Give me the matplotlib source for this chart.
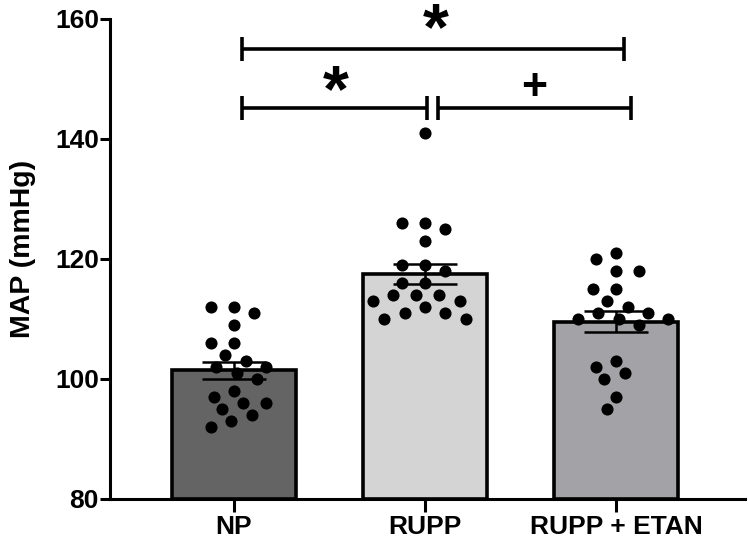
import numpy as np
import matplotlib
matplotlib.use("Agg")
import matplotlib.pyplot as plt

plt.rcParams['font.family'] = ['Liberation Sans', 'DejaVu Sans']
plt.rcParams['font.weight'] = 'bold'

categories = ["NP", "RUPP", "RUPP + ETAN"]
np_vals = [112, 112, 111, 109, 106, 106, 104, 103, 102, 102,
           101, 100, 98, 97, 95, 96, 96, 94, 92, 93]
rupp_vals = [141, 125, 126, 126, 123, 119, 119, 118, 116, 116,
             113, 110, 113, 114, 114, 112, 111, 110, 114, 111]
etan_vals = [111, 110, 120, 118, 115, 111, 109, 121, 118, 115,
             113, 110, 110, 112, 102, 100, 101, 103, 97, 95]
groups = [np_vals, rupp_vals, etan_vals]
bar_colors = ["#646464", "#d4d4d4", "#a3a2a6"]
yticks = [80, 100, 120, 140, 160]

fig = plt.figure(figsize=(7.48, 5.45), dpi=100)
ax = fig.add_axes([110/748, 1-499/545, 635/748, 480/545])
ax.set_xlim(-0.649, 2.675)
ax.set_ylim(80, 160)

x = np.arange(len(categories))
means = [np.mean(g) for g in groups]
sems = [np.std(g, ddof=1)/np.sqrt(len(g)) for g in groups]

ax.bar(x, [m - 80 for m in means], bottom=80, width=0.65, color=bar_colors,
       edgecolor='black', linewidth=2.6, zorder=2)

# swarm layout in pixel space (elliptical neighbourhood to spread rows wider)
T = ax.transData
px_per_x = T.transform((1, 0))[0] - T.transform((0, 0))[0]
px_per_y = T.transform((0, 1))[1] - T.transform((0, 0))[1]
dx0 = 23.0
dy0 = 13.0

def swarm(vals):
    vals = np.asarray(vals, float)
    ys = vals * px_per_y
    order = np.argsort(-vals, kind='stable')
    placed = []
    offs = np.zeros(len(vals))

    def collide(c, y):
        return any(((c - xj)/dx0)**2 + ((y - yj)/dy0)**2 < 1 - 1e-6 for (xj, yj) in placed)

    for i in order:
        y = ys[i]
        cands = [0.0]
        for (xj, yj) in placed:
            dy = abs(y - yj)
            if dy < dy0:
                ddx = dx0 * np.sqrt(1 - (dy/dy0)**2)
                cands += [xj - ddx, xj + ddx]
        cands = sorted(cands, key=lambda c: (abs(c), c))
        for c in cands:
            if not collide(c, y):
                offs[i] = c
                placed.append((c, y))
                break
    return offs / px_per_x

for xi, g in zip(x, groups):
    off = swarm(g)
    ax.scatter(xi + off, g, s=76, color='black', zorder=3, linewidths=0)

ax.errorbar(x, means, yerr=sems, fmt='none', ecolor='black', elinewidth=1.8,
            capsize=23, capthick=1.8, zorder=4)

for s in ['top', 'right']:
    ax.spines[s].set_visible(False)
for s in ['left', 'bottom']:
    ax.spines[s].set_linewidth(2.2)

ax.set_yticks(yticks)
ax.set_xticks(x)
ax.set_xticklabels(categories, fontsize=19, fontweight='bold')
ax.tick_params(axis='y', labelsize=19, width=2.2, length=7, pad=1)
ax.tick_params(axis='x', width=2.2, length=9.4, pad=2)
for lab in ax.get_yticklabels():
    lab.set_fontweight('bold')
ax.set_ylabel("MAP (mmHg)", fontsize=20.5, fontweight='bold')
ax.yaxis.set_label_coords(-0.117, 0.52)

# significance brackets
def bracket(x0, x1, y, h=2.0):
    ax.plot([x0, x1], [y, y], color='black', lw=2.6, clip_on=False, zorder=5,
            solid_capstyle='butt')
    for xx in (x0, x1):
        ax.plot([xx, xx], [y - h, y + h], color='black', lw=2.6, clip_on=False,
                zorder=5, solid_capstyle='butt')

bracket(0.04, 2.04, 155.0)
bracket(0.04, 1.01, 145.2)
bracket(1.066, 2.08, 145.2)
ax.text(1.055, 155.0, "*", fontsize=48, fontweight='bold', ha='center', va='baseline', clip_on=False)
ax.text(0.535, 144.6, "*", fontsize=48, fontweight='bold', ha='center', va='baseline', clip_on=False)
ax.text(1.57, 146.5, "+", fontsize=32, fontweight='bold', ha='center', va='baseline', clip_on=False)

fig.savefig("out.png", dpi=100)
